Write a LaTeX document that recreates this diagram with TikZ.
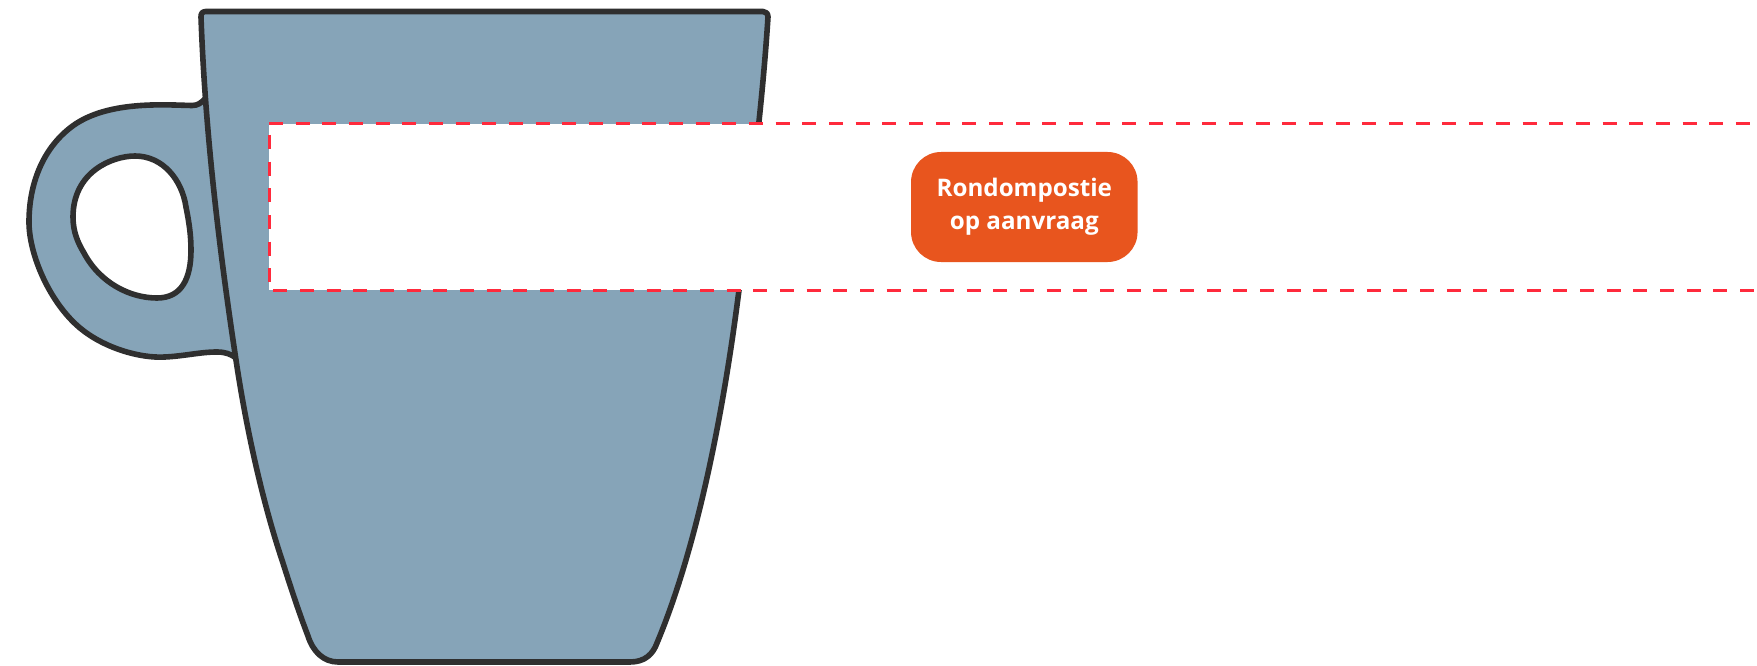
\documentclass[tikz,border=0pt]{standalone}
\usepackage{fontspec}
\newfontfamily\labelfont{Open Sans}
\definecolor{mugblue}{HTML}{86A4B8}
\definecolor{mugline}{HTML}{2F2F2F}
\definecolor{tagorange}{HTML}{E8551E}
\definecolor{cutred}{HTML}{FF2A3C}
\tikzset{
  mugshape/.style={fill=mugblue,draw=mugline,line width=5.6pt,line join=round,line cap=round},
  cutline/.style={draw=cutred,line width=3pt,dash pattern=on 14pt off 12.67pt},
  tag/.style={fill=tagorange,rounded corners=30pt,minimum width=226.5pt,minimum height=110pt,inner sep=0pt,
    text=white,align=center,font=\labelfont\bfseries\fontsize{24.2}{33}\selectfont}
}
\begin{document}
\begin{tikzpicture}[x=1pt,y=-1pt]
\useasboundingbox (0,0) rectangle (1757,666);
\fill[white] (0,0) rectangle (1757,666);
% handle
\draw[mugshape] (206,98)
  .. controls (201,103) and (198,105.5) .. (192,105.5)
  .. controls (165,105) and (105,100) .. (70,128)
  .. controls (42,150) and (29,185) .. (29,222)
  .. controls (29,255) and (50,303) .. (80,328)
  .. controls (104,348) and (140,358.5) .. (165,357)
  .. controls (185,356) and (200,352) .. (217,352)
  .. controls (225,352) and (231,354) .. (236,358)
  -- (260,300) -- (240,100) -- cycle;
\draw[mugshape,fill=white] (135,156)
  .. controls (112,156) and (73,172) .. (73,217)
  .. controls (73,232) and (78,243) .. (84,253)
  .. controls (100,283) and (130,298) .. (157,298)
  .. controls (182,298) and (191,278) .. (191,250)
  .. controls (191,235) and (189,222) .. (186,207)
  .. controls (182,180) and (163,156) .. (135,156) -- cycle;
% body
\draw[mugshape] (206,11.5)
  .. controls (202.5,11.5) and (200.8,13.5) .. (201,17)
  .. controls (205,130) and (219,248) .. (236,360)
  .. controls (246,427) and (262,500) .. (282,560)
  .. controls (290,585) and (298,610) .. (308,636)
  .. controls (313,652) and (324,662) .. (338,662)
  -- (630,662)
  .. controls (645,662) and (653,654) .. (657,643)
  .. controls (700,540) and (725,400) .. (739,290)
  .. controls (750,200) and (762,110) .. (768,17)
  .. controls (768,13.5) and (766,11.5) .. (763,11.5)
  -- cycle;
% cut-out band
\fill[white] (269,124) rectangle (1757,290);
\draw[cutline] (269,124) -- (1757,124);
\draw[cutline] (273.3,290) -- (1757,290);
\draw[cutline] (269,135) -- (269,290);
\node[tag] (label) at (1024.3,207) {Rondompostie\\op aanvraag};
\end{tikzpicture}
\end{document}
